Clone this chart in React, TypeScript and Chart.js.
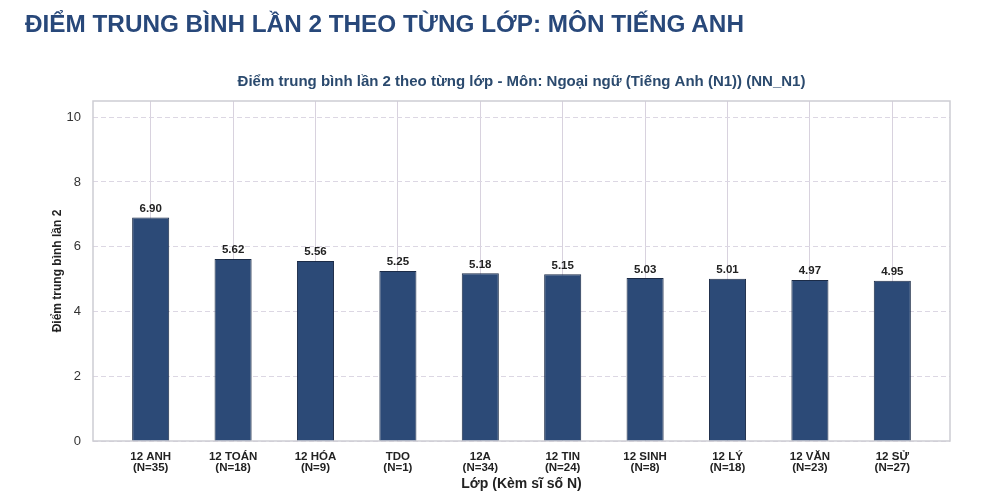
import { useEffect, useRef } from "react"
import { Chart, registerables } from "chart.js"

Chart.register(...registerables)

// Class names and class sizes (N)
const classNames = ["12 ANH", "12 TOÁN", "12 HÓA", "TDO", "12A", "12 TIN", "12 SINH", "12 LÝ", "12 VĂN", "12 SỬ"]
const classSizes = [35, 18, 9, 1, 34, 24, 8, 18, 23, 27]
const avgScores = [6.9, 5.62, 5.56, 5.25, 5.18, 5.15, 5.03, 5.01, 4.97, 4.95]
const yTicks = [0, 2, 4, 6, 8, 10]

const FONT = "'Liberation Sans', Arial, sans-serif"

// value labels above the bars
const valueLabels = {
  id: "valueLabels",
  afterDatasetsDraw(chart: Chart) {
    const ctx = chart.ctx
    const meta = chart.getDatasetMeta(0)
    ctx.save()
    ctx.font = `bold 11.5px ${FONT}`
    ctx.fillStyle = "#222222"
    ctx.textAlign = "center"
    ctx.textBaseline = "bottom"
    meta.data.forEach((bar: any, i: number) => {
      ctx.fillText(avgScores[i].toFixed(2), bar.x, bar.y - 3)
    })
    ctx.restore()
  },
}

// light frame around the plot area
const plotFrame = {
  id: "plotFrame",
  beforeDatasetsDraw(chart: Chart) {
    const { ctx, chartArea } = chart
    ctx.save()
    ctx.strokeStyle = "#cdcdd3"
    ctx.lineWidth = 1.5
    ctx.strokeRect(chartArea.left, chartArea.top, chartArea.right - chartArea.left, chartArea.bottom - chartArea.top)
    ctx.restore()
  },
}

const ScoreChart = () => {
  const canvasRef = useRef<HTMLCanvasElement>(null)
  const chartRef = useRef<Chart | null>(null)

  useEffect(() => {
    if (!canvasRef.current) return
    const ctx = canvasRef.current.getContext("2d")
    if (!ctx) return
    if (chartRef.current) chartRef.current.destroy()

    chartRef.current = new Chart(ctx, {
      type: "bar",
      data: {
        datasets: [
          {
            data: avgScores.map((v, i) => ({ x: i, y: v })),
            backgroundColor: "#2c4a77",
            borderColor: "#1b2b47",
            borderWidth: 1,
            barPercentage: 0.45,
            categoryPercentage: 1,
          },
        ],
      },
      options: {
        responsive: true,
        maintainAspectRatio: false,
        animation: false,
        layout: { padding: { top: 73, right: 50, bottom: 0, left: 0 } },
        plugins: {
          legend: { display: false },
          tooltip: { enabled: false },
          title: {
            display: true,
            fullSize: false,
            text: "Điểm trung bình lần 2 theo từng lớp - Môn: Ngoại ngữ (Tiếng Anh (N1)) (NN_N1)",
            color: "#2b4a6e",
            font: { family: FONT, size: 15, weight: "bold", lineHeight: 1.2 },
            padding: { top: 0, bottom: 10 },
          },
        },
        scales: {
          x: {
            type: "linear",
            min: -0.7,
            max: 9.7,
            offset: false,
            afterBuildTicks: (axis: any) => {
              axis.ticks = classNames.map((_, i) => ({ value: i }))
            },
            afterFit: (scale: any) => {
              scale.height = 63
            },
            grid: { color: "#d8d2de", lineWidth: 1, drawTicks: false, offset: false },
            border: { display: false },
            ticks: {
              autoSkip: false,
              maxRotation: 0,
              padding: 10,
              color: "#222222",
              font: { family: FONT, size: 11.5, weight: "bold", lineHeight: 1.0 },
              callback: (value: any) => {
                const i = Math.round(Number(value))
                return [classNames[i], `(N=${classSizes[i]})`]
              },
            },
            title: {
              display: true,
              text: "Lớp (Kèm sĩ số N)",
              color: "#222222",
              font: { family: FONT, size: 14, weight: "bold", lineHeight: 1.2 },
              padding: { top: 4, bottom: 11 },
            },
          },
          y: {
            min: 0,
            max: 10.5,
            afterBuildTicks: (axis: any) => {
              axis.ticks = yTicks.map((v) => ({ value: v }))
            },
            afterFit: (scale: any) => {
              scale.width = 93
            },
            grid: { color: "#dcd7e3", lineWidth: 1, drawTicks: false },
            border: { display: false, dash: [5, 3] },
            ticks: {
              padding: 12,
              color: "#333333",
              font: { family: FONT, size: 13 },
            },
            title: {
              display: true,
              text: "Điểm trung bình lần 2",
              color: "#222222",
              font: { family: FONT, size: 12, weight: "bold", lineHeight: 1.2 },
              padding: { top: 50, bottom: 0 },
            },
          },
        },
      },
      plugins: [plotFrame, valueLabels],
    })

    return () => {
      if (chartRef.current) {
        chartRef.current.destroy()
        chartRef.current = null
      }
    }
  }, [])

  return <canvas ref={canvasRef} />
}

export default function App() {
  return (
    <div style={{ position: "fixed", left: 0, top: 0, width: 1000, height: 504, background: "#ffffff" }}>
      <div style={{ position: "absolute", left: 0, top: 0, width: 1000, height: 504 }}>
        <ScoreChart />
      </div>
      <div
        style={{
          position: "absolute",
          left: 25,
          top: 12,
          fontFamily: FONT,
          fontWeight: "bold",
          fontSize: 24.3,
          lineHeight: "24px",
          color: "#28487a",
          whiteSpace: "nowrap",
          pointerEvents: "none",
        }}
      >
        ĐIỂM TRUNG BÌNH LẦN 2 THEO TỪNG LỚP: MÔN TIẾNG ANH
      </div>
    </div>
  )
}
